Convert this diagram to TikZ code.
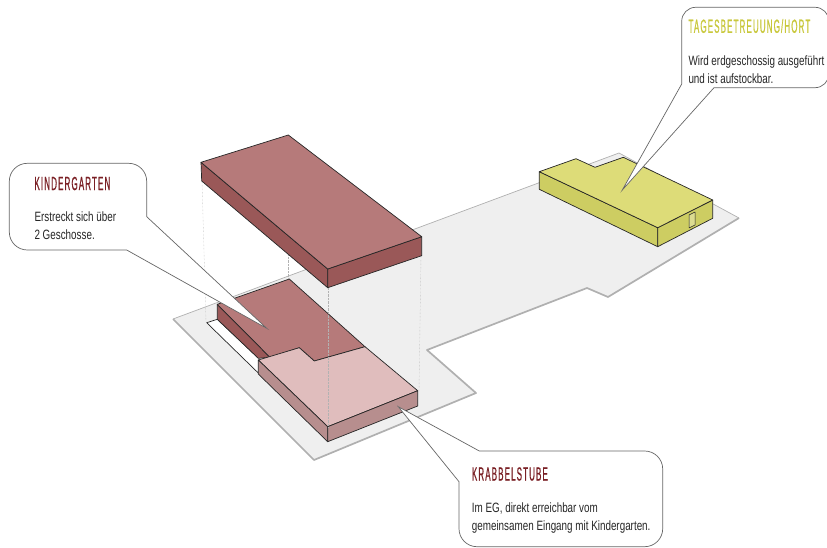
\documentclass[tikz,border=0pt]{standalone}
\usepackage{fontspec}
\setmainfont[FakeStretch=0.73]{Liberation Sans}
\newfontfamily\titlefont[FakeStretch=0.42,LetterSpace=6,FakeBold=0.6]{Liberation Sans}

\definecolor{plotfill}{HTML}{EFEFEF}
\definecolor{plotedge}{HTML}{B0B0B0}
\definecolor{kgtop}{HTML}{B67A7A}
\definecolor{kgside}{HTML}{9A5858}
\definecolor{kslight}{HTML}{E0BDBD}
\definecolor{ksside}{HTML}{B78E8E}
\definecolor{thtop}{HTML}{DDDC78}
\definecolor{thside}{HTML}{CDCD62}
\definecolor{kgtitle}{HTML}{7A1F24}
\definecolor{thtitle}{HTML}{C9C83C}

\tikzset{
  block/.style={draw=black!85, line width=0.7pt, line join=round},
  bubble/.style={draw=black!60, fill=white, line width=0.7pt},
  guide/.style={draw=black!30, densely dotted, line width=0.4pt},
  title/.style={anchor=west, inner sep=0pt, font=\titlefont\fontsize{19}{21}\selectfont},
  body/.style={anchor=north west, inner sep=0pt, align=left, text=black!85, font=\fontsize{13.5}{18}\selectfont}
}

\begin{document}
\begin{tikzpicture}[x=1pt, y=-1pt]
\useasboundingbox (0,0) rectangle (827,548);

% Draw the plot
\fill[plotfill] (173,319) -- (619,153) -- (739,218) -- (608,297) -- (587,288) -- (427,350) -- (476,393) -- (314,460) -- cycle;
\draw[plotedge, line width=0.7pt] (173,319) -- (619,153) -- (739,218);
\draw[plotedge, line width=1.7pt, line join=round] (739,218) -- (608,297) -- (587,288) -- (427,350) -- (476,393) -- (314,460) -- (173,319);

% Draw the lower building
\draw[block, fill=white] (258.3,373) -- (206.7,322.7) -- (217.3,319.3) -- (258.3,358);
\draw[block, fill=kgside] (217.3,304.3) -- (217.3,319.3) -- (258.3,358.3) -- (270,357.3) -- cycle;
\draw[block, fill=kgtop] (217.3,304.3) -- (289.3,279) -- (365,346.7) -- (314.3,361) -- (299.3,347.7) -- (270,357.3) -- cycle;
\draw[block, fill=kslight] (258.3,360) -- (299.3,347.7) -- (314.3,361) -- (365,346.7) -- (417.7,390.7) -- (327.7,426.7) -- cycle;
\draw[block, fill=ksside] (258.3,360) -- (258.3,374) -- (327.7,441.7) -- (327.7,426.7) -- cycle;
\draw[block, fill=ksside] (327.7,426.7) -- (327.7,441.7) -- (417.7,406) -- (417.7,390.7) -- cycle;

% Draw the guide lines
\draw[guide] (202,181) -- (206,322);
\draw[guide] (288.3,254) -- (288.3,279);
\draw[guide] (327.7,288) -- (327.7,427);
\draw[guide] (421,256) -- (419,391);

% Draw the upper floor
\draw[block, fill=kgside] (201,162.3) -- (201.7,181) -- (327.7,287.7) -- (327.7,269) -- cycle;
\draw[block, fill=kgside] (327.7,269) -- (327.7,287.7) -- (421.7,255.7) -- (421.7,236.7) -- cycle;
\draw[block, fill=kgtop] (201,162.3) -- (288.3,135) -- (421.7,236.7) -- (327.7,269) -- cycle;

% Draw the yellow building
\draw[block, fill=thside] (539.3,171.7) -- (539.3,189.3) -- (657.7,246.7) -- (657.7,227.7) -- cycle;
\draw[block, fill=thside] (657.7,227.7) -- (657.7,246.7) -- (712.7,218.3) -- (712.7,200) -- cycle;
\draw[block, fill=thtop] (539.3,171.7) -- (576,158.7) -- (595,167.3) -- (623.3,157.3) -- (712.7,200) -- (657.7,227.7) -- cycle;
\draw[block, line width=0.5pt, fill=thside!70!white] (689,215) -- (695,212) -- (695,225) -- (689,228) -- cycle;

% Draw the bubbles
\draw[bubble] (146.7,216.7) -- (266.7,328.3) -- (126.7,250) [rounded corners=18pt] -- (9.3,250) -- (9.3,163.3) -- (146.7,163.3) [sharp corners] -- cycle;
\draw[bubble] (459,481.7) -- (398.3,406.7) -- (479.3,451) [rounded corners=18pt] -- (662.7,451) -- (662.7,546.7) -- (459,546.7) [sharp corners] -- cycle;
\draw[bubble] (714,87.7) -- (622.3,190) -- (681.7,84) [rounded corners=14pt] -- (681.7,7.3) -- (829,7.3) -- (829,87.7) [sharp corners] -- cycle;

% Define the nodes with coordinates
\node[title, text=kgtitle] (KG) at (34.3,183.5) {KINDERGARTEN};
\node[body] (KGtext) at (34.3,212) {Erstreckt sich über\\2 Geschosse.};
\node[title, text=kgtitle] (KS) at (471.7,474) {KRABBELSTUBE};
\node[body] (KStext) at (471.7,502.5) {Im EG, direkt erreichbar vom\\gemeinsamen Eingang mit Kindergarten.};
\node[title, text=thtitle] (TH) at (688.3,26) {TAGESBETREUUNG/HORT};
\node[body] (THtext) at (688.3,55.5) {Wird erdgeschossig ausgeführt\\und ist aufstockbar.};

\end{tikzpicture}
\end{document}
